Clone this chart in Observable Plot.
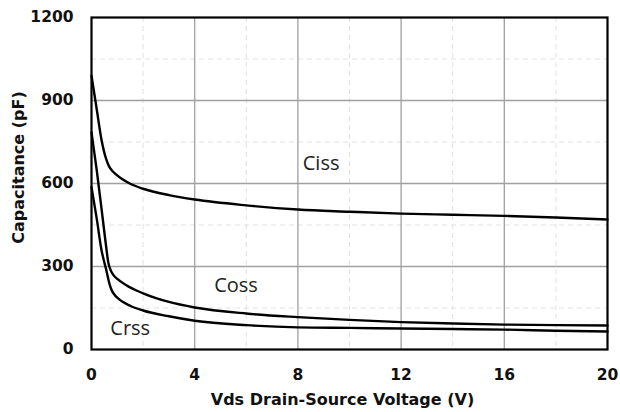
<!DOCTYPE html>
<html><head><meta charset="utf-8">
<script src="https://cdn.jsdelivr.net/npm/d3@7"></script>
<script src="https://cdn.jsdelivr.net/npm/@observablehq/plot@0.6"></script>
<style>body{margin:0;background:#fff}</style>
</head><body><div id="chart"></div>
<script>
const xTicks = [0, 4, 8, 12, 16, 20];
const yTicks = [0, 300, 600, 900, 1200];
const xMinor = [2, 6, 10, 14, 18];
const yMinor = [150, 450, 750, 1050];

const cissV = [0, 0.2, 0.38, 0.48, 0.58, 0.68, 0.8, 0.95, 1.2, 1.5, 2, 3, 4, 6, 8, 10, 12, 14, 16, 18, 20];
const cissC = [990, 870, 762, 718, 685, 662, 646, 633, 615, 599, 581, 558, 542, 521, 506, 498, 491, 487, 483, 477, 470];
const cossV = [0, 0.2, 0.4, 0.55, 0.65, 0.75, 0.85, 1.0, 1.35, 2, 3, 4, 6, 8, 10, 12, 14, 16, 18, 20];
const cossC = [785, 650, 500, 385, 315, 285, 269, 255, 232, 203, 172, 152, 130, 117, 107, 99, 94, 90, 88, 87];
const crssV = [0, 0.2, 0.39, 0.5, 0.58, 0.65, 0.72, 0.8, 0.9, 1.0, 1.5, 2, 3, 4, 6, 8, 10, 12, 14, 16, 18, 20];
const crssC = [587, 475, 358, 314, 285, 255, 230, 211, 197, 187, 158, 141, 120, 104, 88, 80, 78, 76, 74, 72, 68, 65];

const seriesNames = ["Ciss", "Coss", "Crss"];
const labelV = [8.9, 5.6, 1.5];
const labelC = [672, 230, 75];

const rows = (name, vs, cs) => vs.map((v, i) => ({name, v, c: cs[i]}));
const data = [
  ...rows("Ciss", cissV, cissC),
  ...rows("Coss", cossV, cossC),
  ...rows("Crss", crssV, crssC)
];
const labels = seriesNames.map((n, i) => ({name: n, v: labelV[i], c: labelC[i]}));

const chart = Plot.plot({
  width: 620,
  height: 412,
  marginLeft: 91,
  marginRight: 13,
  marginTop: 17,
  marginBottom: 63,
  style: {fontFamily: "DejaVu Sans, sans-serif", fontSize: "15.5px", fontWeight: "bold", color: "#111", background: "#fff"},
  x: {domain: [0, 20]},
  y: {domain: [0, 1200]},
  marks: [
    Plot.ruleX(xMinor, {stroke: "#e2e2e2", strokeDasharray: "5,4", strokeOpacity: 1}),
    Plot.ruleY(yMinor, {stroke: "#e2e2e2", strokeDasharray: "5,4", strokeOpacity: 1}),
    Plot.ruleX(xTicks.slice(1, -1), {stroke: "#a0a0a0", strokeWidth: 1.3, strokeOpacity: 1}),
    Plot.ruleY(yTicks.slice(1, -1), {stroke: "#a0a0a0", strokeWidth: 1.3, strokeOpacity: 1}),
    Plot.line(data, {x: "v", y: "c", z: "name", stroke: "#000", strokeWidth: 2.4, curve: "monotone-x"}),
    Plot.frame({stroke: "#000", strokeWidth: 2.2}),
    Plot.text(labels, {x: "v", y: "c", text: "name", fontFamily: "Open Sans, sans-serif", fontWeight: "normal", fontSize: 20, fill: "#222"}),
    Plot.axisX({ticks: xTicks, tickSize: 0, tickPadding: 19, label: null, tickFormat: d => String(d)}),
    Plot.axisY({ticks: yTicks, tickSize: 0, tickPadding: 18, label: null, tickFormat: d => String(d)}),
    Plot.text(["Vds Drain-Source Voltage (V)"], {frameAnchor: "bottom", textAnchor: "middle", lineAnchor: "middle", dx: -7, dy: 50, fontSize: 16, fontWeight: "bold", fill: "#111"}),
    Plot.text(["Capacitance (pF)"], {frameAnchor: "left", textAnchor: "middle", lineAnchor: "middle", rotate: -90, dx: -73, dy: -16, fontSize: 16, fontWeight: "bold", fill: "#111"})
  ]
});
document.getElementById("chart").appendChild(chart);
</script>
</body></html>
